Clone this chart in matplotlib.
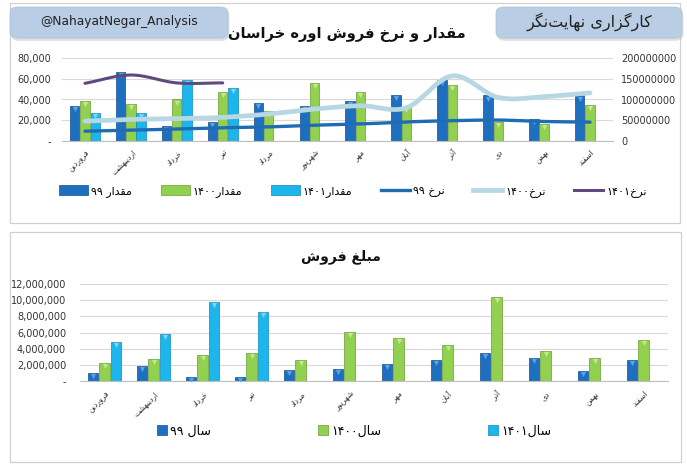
import matplotlib
matplotlib.use("Agg")
import matplotlib.pyplot as plt
import matplotlib.transforms as mtransforms
import numpy as np
from matplotlib.patches import Rectangle, FancyBboxPatch
from matplotlib.lines import Line2D
from matplotlib.ticker import FuncFormatter, MultipleLocator

plt.rcParams['font.family'] = ['DejaVu Sans']

# ---- data ----
months = ["فروردین", "اردیبهشت", "خرداد", "تیر", "مرداد", "شهریور",
          "مهر", "آبان", "آذر", "دی", "بهمن", "اسفند"]

qty_99 = [34100, 66200, 14400, 18400, 37000, 34100, 39000, 44600, 59000, 43900, 21000, 43900]
qty_1400 = [39000, 36000, 40000, 46900, 29200, 56000, 47200, 32500, 53800, 18000, 16700, 35100]
qty_1401 = [27200, 27200, 58700, 51500]

rate_99 = [23.7e6, 26e6, 29e6, 32e6, 34e6, 38e6, 41e6, 46e6, 49e6, 50.5e6, 47e6, 45.5e6]
rate_1400 = [48e6, 52e6, 54e6, 57e6, 65e6, 77e6, 85e6, 80e6, 157e6, 105e6, 107e6, 116e6]
rate_1401 = [139e6, 159e6, 140e6, 140e6]

amt_99 = [0.95e6, 1.86e6, 0.54e6, 0.54e6, 1.32e6, 1.44e6, 2.1e6, 2.64e6, 3.42e6, 2.8e6, 1.2e6, 2.64e6]
amt_1400 = [2.27e6, 2.68e6, 3.18e6, 3.42e6, 2.56e6, 6.1e6, 5.32e6, 4.41e6, 10.35e6, 3.67e6, 2.8e6, 5.07e6]
amt_1401 = [4.78e6, 5.81e6, 9.77e6, 8.49e6]

top_legend = ["مقدار ۹۹", "مقدار۱۴۰۰", "مقدار۱۴۰۱", "نرخ ۹۹", "نرخ۱۴۰۰", "نرخ۱۴۰۱"]
bottom_legend = ["سال ۹۹", "سال۱۴۰۰", "سال۱۴۰۱"]
title_top = "مقدار و نرخ فروش اوره خراسان"
title_bottom = "مبلغ فروش"
brand = "کارگزاری نهایت\u200cنگر"
handle = "@NahayatNegar_Analysis"

# ---- minimal Arabic-script shaping (matplotlib does no joining / bidi) ----
# (isolated, final, initial, medial); right-joining letters have no initial/medial
FORMS = {
    'ا': ('\uFE8D', '\uFE8E', None, None), 'آ': ('\uFE81', '\uFE82', None, None),
    'د': ('\uFEA9', '\uFEAA', None, None), 'ذ': ('\uFEAB', '\uFEAC', None, None),
    'ر': ('\uFEAD', '\uFEAE', None, None), 'ز': ('\uFEAF', '\uFEB0', None, None),
    'و': ('\uFEED', '\uFEEE', None, None),
    'ب': ('\uFE8F', '\uFE90', '\uFE91', '\uFE92'), 'ت': ('\uFE95', '\uFE96', '\uFE97', '\uFE98'),
    'خ': ('\uFEA5', '\uFEA6', '\uFEA7', '\uFEA8'), 'س': ('\uFEB1', '\uFEB2', '\uFEB3', '\uFEB4'),
    'ش': ('\uFEB5', '\uFEB6', '\uFEB7', '\uFEB8'), 'غ': ('\uFECD', '\uFECE', '\uFECF', '\uFED0'),
    'ف': ('\uFED1', '\uFED2', '\uFED3', '\uFED4'), 'ق': ('\uFED5', '\uFED6', '\uFED7', '\uFED8'),
    'ل': ('\uFEDD', '\uFEDE', '\uFEDF', '\uFEE0'), 'م': ('\uFEE1', '\uFEE2', '\uFEE3', '\uFEE4'),
    'ن': ('\uFEE5', '\uFEE6', '\uFEE7', '\uFEE8'), 'ه': ('\uFEE9', '\uFEEA', '\uFEEB', '\uFEEC'),
    'ک': ('\uFB8E', '\uFB8F', '\uFB90', '\uFB91'), 'گ': ('\uFB92', '\uFB93', '\uFB94', '\uFB95'),
    'ی': ('\uFBFC', '\uFBFD', '\uFBFE', '\uFBFF'),
}
DIGITS = '۰۱۲۳۴۵۶۷۸۹0123456789'


def fa(s):
    out = []
    for i, c in enumerate(s):
        if c not in FORMS:
            out.append(c)
            continue
        prev = s[i - 1] if i > 0 else ''
        nxt = s[i + 1] if i + 1 < len(s) else ''
        jp = prev in FORMS and FORMS[prev][2] is not None
        jn = FORMS[c][2] is not None and nxt in FORMS
        iso, fin, ini, med = FORMS[c]
        out.append(med if (jp and jn) else fin if jp else ini if jn else iso)
    out = [g for g in out if g != '\u200c']
    runs = []
    for g in out:
        d = g in DIGITS
        if runs and d and runs[-1][0]:
            runs[-1][1] += g
        else:
            runs.append([d, g])
    return ''.join(r[1] for r in reversed(runs))


def smooth(x, y, n=20):
    # Catmull-Rom path through the points, like Excel's "smoothed line"
    x = np.asarray(x, float)
    y = np.asarray(y, float)
    px = np.concatenate([[2 * x[0] - x[1]], x, [2 * x[-1] - x[-2]]])
    py = np.concatenate([[2 * y[0] - y[1]], y, [2 * y[-1] - y[-2]]])
    t = np.linspace(0, 1, n)[:, None]
    xs, ys = [], []
    for i in range(1, len(px) - 2):
        for p, out in ((px, xs), (py, ys)):
            p0, p1, p2, p3 = p[i - 1], p[i], p[i + 1], p[i + 2]
            out.append((0.5 * ((2 * p1) + (-p0 + p2) * t + (2 * p0 - 5 * p1 + 4 * p2 - p3) * t ** 2
                               + (-p0 + 3 * p1 - 3 * p2 + p3) * t ** 3)).ravel())
    return np.concatenate(xs), np.concatenate(ys)


c99, e99, t99 = '#1f6fc0', '#164f8c', '#5aa3e6'
c1400, e1400, t1400 = '#92d050', '#6a9a36', '#c3e88f'
c1401, e1401, t1401 = '#1db6ec', '#1089b8', '#7ad8f7'
l99, l1400, l1401 = '#1f6cb5', '#b7d7e2', '#5e4a7e'
grid_c = '#d9d9d9'

W, H = 687, 469
fig = plt.figure(figsize=(W / 100, H / 100), dpi=100)


def fx(px):
    return px / W


def fy(py):
    return 1 - py / H


# panels
for (x0, y0, x1, y1) in [(10, 3, 680, 223), (10, 232, 681, 462)]:
    fig.patches.append(Rectangle((fx(x0), fy(y1)), fx(x1 - x0), (y1 - y0) / H,
                                 transform=fig.transFigure, facecolor='white',
                                 edgecolor='#d0d0d0', lw=0.9, zorder=-2))

# banners with a soft shadow
for (x0, y0, x1, y1, txt, fs) in [(10, 7, 228, 38, handle, 8.8),
                                  (496, 7, 682, 38, fa(brand), 11.5)]:
    fig.patches.append(FancyBboxPatch((fx(x0) + 0.002, fy(y1) - 0.006), fx(x1 - x0), (y1 - y0) / H,
                                      boxstyle="round,pad=0,rounding_size=0.012",
                                      transform=fig.transFigure, facecolor='#c9c9c9',
                                      edgecolor='none', zorder=1, alpha=0.6))
    fig.patches.append(FancyBboxPatch((fx(x0), fy(y1)), fx(x1 - x0), (y1 - y0) / H,
                                      boxstyle="round,pad=0,rounding_size=0.012",
                                      transform=fig.transFigure, facecolor='#b9cde5',
                                      edgecolor='#a9bfd9', lw=0.5, zorder=2))
    fig.text(fx((x0 + x1) / 2), fy((y0 + y1) / 2 - 1), txt, ha='center', va='center',
             fontsize=fs, color='#222222', zorder=3)

fig.text(fx(347), fy(34), fa(title_top), ha='center', va='center', fontsize=10.5,
         fontweight='bold', color='#111111')
fig.text(fx(341), fy(257), fa(title_bottom), ha='center', va='center', fontsize=10,
         fontweight='bold', color='#111111')

x = np.arange(len(months))
step = 0.225
bw = 0.205
month_labels = [fa(m) for m in months]


def style_axes(ax):
    ax.patch.set_alpha(0)
    for s in ['top', 'left', 'right']:
        ax.spines[s].set_visible(False)
    ax.spines['bottom'].set_color('#bfbfbf')
    ax.tick_params(length=0, labelsize=7, colors='#333333')
    ax.grid(axis='y', color=grid_c, lw=0.8)
    ax.set_axisbelow(True)
    ax.set_xlim(-0.5, len(months) - 0.5)
    ax.set_xticks(x)
    ax.set_xticklabels(month_labels, rotation=45, ha='right', rotation_mode='anchor',
                       fontsize=5.5)


def bars(ax, xs, vals, c, e, tip):
    ax.bar(xs, vals, bw, color=c, edgecolor=e, lw=0.5)
    # small lighter bevel triangle at the top of each bar, as in the Excel style
    tr = mtransforms.offset_copy(ax.transData, fig=fig, y=-2.2, units='points')
    ax.scatter(xs, vals, marker='v', s=14, color=tip, lw=0, transform=tr, zorder=3)


# ---- top chart: quantities (bars) + rates (lines) ----
ax1 = fig.add_axes([fx(62), fy(141), fx(613 - 62), (141 - 58) / H])
bars(ax1, x - step, qty_99, c99, e99, t99)
bars(ax1, x, qty_1400, c1400, e1400, t1400)
bars(ax1, x[:len(qty_1401)] + step, qty_1401, c1401, e1401, t1401)
style_axes(ax1)
ax1.set_ylim(0, 80000)
ax1.yaxis.set_major_locator(MultipleLocator(20000))
ax1.yaxis.set_major_formatter(FuncFormatter(lambda v, p: '-' if v == 0 else f'{v:,.0f}'))
ax1.tick_params(axis='x', pad=5)
ax1.tick_params(axis='y', pad=8)

ax2 = ax1.twinx()
for vals, col, lw in [(rate_99, l99, 2.4), (rate_1400, l1400, 3.4), (rate_1401, l1401, 2.2)]:
    sx, sy = smooth(x[:len(vals)], vals)
    ax2.plot(sx, sy, color=col, lw=lw, solid_capstyle='round')
ax2.set_ylim(0, 200e6)
ax2.yaxis.set_major_locator(MultipleLocator(50e6))
ax2.yaxis.set_major_formatter(FuncFormatter(lambda v, p: f'{v:.0f}'))
for s in ax2.spines.values():
    s.set_visible(False)
ax2.tick_params(length=0, labelsize=7, colors='#333333', pad=6)

handles = [Rectangle((0, 0), 1, 1, fc=c99, ec=e99, lw=0.5),
           Rectangle((0, 0), 1, 1, fc=c1400, ec=e1400, lw=0.5),
           Rectangle((0, 0), 1, 1, fc=c1401, ec=e1401, lw=0.5),
           Line2D([], [], color=l99, lw=2.4),
           Line2D([], [], color=l1400, lw=3.4),
           Line2D([], [], color=l1401, lw=2.2)]
fig.legend(handles, [fa(t) for t in top_legend], loc='center', bbox_to_anchor=(fx(353), fy(191)),
           ncol=6, frameon=False, fontsize=8, handlelength=2.6, handleheight=0.9,
           handletextpad=0.25, columnspacing=2.6)

# ---- bottom chart: sales amount ----
ax3 = fig.add_axes([fx(80), fy(381), fx(668 - 80), (381 - 284) / H])
bars(ax3, x - step, amt_99, c99, e99, t99)
bars(ax3, x, amt_1400, c1400, e1400, t1400)
bars(ax3, x[:len(amt_1401)] + step, amt_1401, c1401, e1401, t1401)
style_axes(ax3)
ax3.set_ylim(0, 12e6)
ax3.yaxis.set_major_locator(MultipleLocator(2e6))
ax3.yaxis.set_major_formatter(FuncFormatter(lambda v, p: '-' if v == 0 else f'{v:,.0f}'))
ax3.tick_params(axis='x', pad=6)
ax3.tick_params(axis='y', pad=10)

bh = [Rectangle((0, 0), 1, 1, fc=c, ec=e, lw=0.5) for c, e in [(c99, e99), (c1400, e1400), (c1401, e1401)]]
fig.legend(bh, [fa(t) for t in bottom_legend], loc='center', bbox_to_anchor=(fx(354), fy(431)),
           ncol=3, frameon=False, fontsize=9, handlelength=0.8, handleheight=0.8,
           handletextpad=0.3, columnspacing=8.5)

fig.savefig('out.png', dpi=100)
